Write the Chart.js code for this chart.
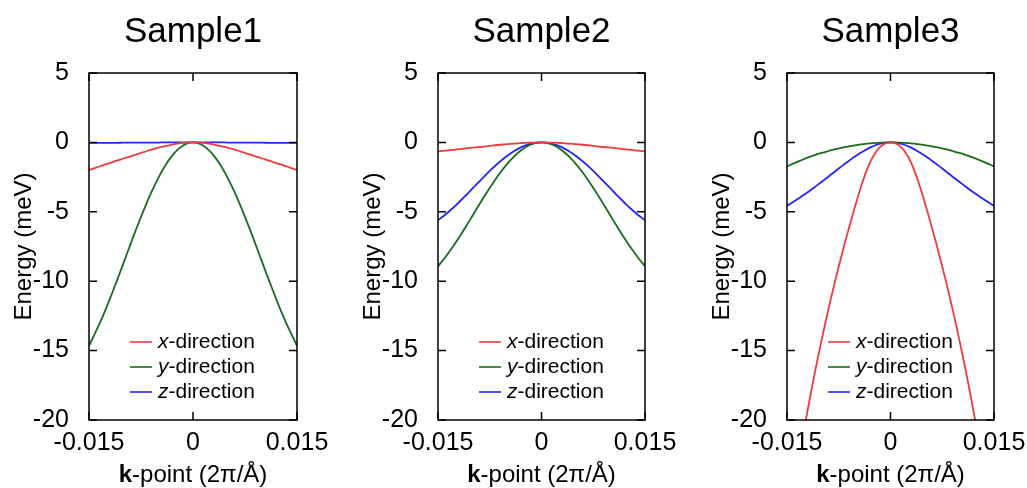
<!DOCTYPE html>
<html>
<head>
<meta charset="utf-8">
<script src="https://cdn.jsdelivr.net/npm/chart.js@4.4.1/dist/chart.umd.min.js"></script>
<style>
    body { margin: 0; background: #fff; width: 1027px; height: 488px; position: relative; overflow: hidden; }
    canvas { position: absolute; top: 0; }
</style>
</head>
<body>
<canvas id="chart1" width="329" height="488" style="left:0px"></canvas>
<canvas id="chart2" width="329" height="488" style="left:349px"></canvas>
<canvas id="chart3" width="329" height="488" style="left:698px"></canvas>
<script>
// k-points along the path (2π/Å)
const kPoints = [-0.015, -0.014, -0.013, -0.012, -0.011, -0.010, -0.009, -0.008, -0.007, -0.006, -0.005, -0.004, -0.003, -0.002, -0.001,
    0, 0.001, 0.002, 0.003, 0.004, 0.005, 0.006, 0.007, 0.008, 0.009, 0.010, 0.011, 0.012, 0.013, 0.014, 0.015];

const xTicks = [-0.015, 0, 0.015];
const yTicks = [5, 0, -5, -10, -15, -20];

const titles = ['Sample1', 'Sample2', 'Sample3'];
const seriesLabels = ['x-direction', 'y-direction', 'z-direction'];

// Energies (meV)
const sample1X = [-1.98, -1.82, -1.65, -1.49, -1.32, -1.16, -1.0, -0.84, -0.68, -0.52, -0.38, -0.26, -0.16, -0.07, -0.02,
    0, -0.02, -0.07, -0.16, -0.26, -0.38, -0.52, -0.68, -0.84, -1.0, -1.16, -1.32, -1.49, -1.65, -1.82, -1.98];
const sample1Y = [-14.65, -13.62, -12.51, -11.29, -9.99, -8.66, -7.31, -6.0, -4.75, -3.59, -2.55, -1.66, -0.95, -0.43, -0.11,
    0, -0.11, -0.43, -0.95, -1.66, -2.55, -3.59, -4.75, -6.0, -7.31, -8.66, -9.99, -11.29, -12.51, -13.62, -14.65];
const sample1Z = [-0.04, -0.04, -0.03, -0.03, -0.03, -0.02, -0.02, -0.02, -0.01, -0.01, -0.01, 0, 0, 0, 0,
    0, 0, 0, 0, 0, -0.01, -0.01, -0.01, -0.02, -0.02, -0.02, -0.03, -0.03, -0.03, -0.04, -0.04];

const sample2X = [-0.65, -0.6, -0.54, -0.49, -0.43, -0.38, -0.33, -0.28, -0.22, -0.17, -0.12, -0.09, -0.05, -0.02, -0.01,
    0, -0.01, -0.02, -0.05, -0.09, -0.12, -0.17, -0.22, -0.28, -0.33, -0.38, -0.43, -0.49, -0.54, -0.6, -0.65];
const sample2Y = [-8.92, -8.31, -7.63, -6.89, -6.1, -5.28, -4.46, -3.66, -2.9, -2.19, -1.56, -1.02, -0.58, -0.26, -0.07,
    0, -0.07, -0.26, -0.58, -1.02, -1.56, -2.19, -2.9, -3.66, -4.46, -5.28, -6.1, -6.89, -7.63, -8.31, -8.92];
const sample2Z = [-5.61, -5.23, -4.8, -4.33, -3.84, -3.32, -2.81, -2.3, -1.82, -1.38, -0.98, -0.64, -0.36, -0.16, -0.04,
    0, -0.04, -0.16, -0.36, -0.64, -0.98, -1.38, -1.82, -2.3, -2.81, -3.32, -3.84, -4.33, -4.8, -5.23, -5.61];

const sample3X = [null, null, -22.03, -19.28, -16.68, -14.28, -12.03, -9.93, -7.98, -6.13, -4.38, -2.78, -1.48, -0.6, -0.14,
    0, -0.14, -0.6, -1.48, -2.78, -4.38, -6.13, -7.98, -9.93, -12.03, -14.28, -16.68, -19.28, -22.03, null, null];
const sample3Y = [-1.73, -1.51, -1.3, -1.1, -0.92, -0.76, -0.62, -0.49, -0.38, -0.28, -0.2, -0.13, -0.07, -0.03, -0.01,
    0, -0.01, -0.03, -0.07, -0.13, -0.2, -0.28, -0.38, -0.49, -0.62, -0.76, -0.92, -1.1, -1.3, -1.51, -1.73];
const sample3Z = [-4.58, -4.26, -3.93, -3.59, -3.23, -2.85, -2.47, -2.08, -1.69, -1.32, -0.97, -0.65, -0.38, -0.17, -0.04,
    0, -0.04, -0.17, -0.38, -0.65, -0.97, -1.32, -1.69, -2.08, -2.47, -2.85, -3.23, -3.59, -3.93, -4.26, -4.58];

const colors = ['#ee3b3b', '#1d6b1d', '#2424f5'];
const FONT = "'Liberation Sans', Arial, sans-serif";

// Frame with inward ticks, panel title, x-axis title and inset legend
const panelDecor = {
    id: 'panelDecor',
    afterDatasetsDraw(chart, args, opts) {
        const { ctx, chartArea: a, scales } = chart;
        const cx = (a.left + a.right) / 2;
        ctx.save();
        ctx.strokeStyle = '#000';
        ctx.lineWidth = 1.5;
        ctx.strokeRect(a.left, a.top, a.right - a.left, a.bottom - a.top);
        ctx.beginPath();
        scales.y.ticks.forEach(t => {
            const y = scales.y.getPixelForValue(t.value);
            ctx.moveTo(a.left, y); ctx.lineTo(a.left + 8, y);
            ctx.moveTo(a.right, y); ctx.lineTo(a.right - 8, y);
        });
        scales.x.ticks.forEach(t => {
            const x = scales.x.getPixelForValue(t.value);
            ctx.moveTo(x, a.bottom); ctx.lineTo(x, a.bottom - 8);
            ctx.moveTo(x, a.top); ctx.lineTo(x, a.top + 8);
        });
        ctx.stroke();

        ctx.fillStyle = '#000';

        // title
        ctx.font = `35px ${FONT}`;
        ctx.textAlign = 'center';
        ctx.textBaseline = 'alphabetic';
        ctx.fillText(opts.title, cx, 42);

        // x-axis title with bold k
        ctx.textBaseline = 'middle';
        ctx.textAlign = 'left';
        ctx.font = `bold 24px ${FONT}`;
        const bold = 'k';
        const bw = ctx.measureText(bold).width;
        ctx.font = `24px ${FONT}`;
        const rest = '-point (2π/Å)';
        const rw = ctx.measureText(rest).width;
        const x0 = cx - (bw + rw) / 2;
        ctx.font = `bold 24px ${FONT}`;
        ctx.fillText(bold, x0, 475);
        ctx.font = `24px ${FONT}`;
        ctx.fillText(rest, x0 + bw, 475);

        // legend
        chart.data.datasets.forEach((ds, i) => {
            const y = a.bottom - 78 + i * 25;
            ctx.strokeStyle = ds.borderColor;
            ctx.lineWidth = 1.6;
            ctx.beginPath();
            ctx.moveTo(a.left + 41, y);
            ctx.lineTo(a.left + 63, y);
            ctx.stroke();
            ctx.fillStyle = '#000';
            ctx.font = `italic 21px ${FONT}`;
            const first = ds.label.charAt(0);
            ctx.fillText(first, a.left + 69, y);
            const w = ctx.measureText(first).width;
            ctx.font = `21px ${FONT}`;
            ctx.fillText(ds.label.slice(1), a.left + 69 + w, y);
        });
        ctx.restore();
    }
};

function makePanel(canvasId, title, series, plotWidth) {
    const ctx = document.getElementById(canvasId).getContext('2d');
    new Chart(ctx, {
        type: 'line',
        data: {
            datasets: series.map((vals, i) => ({
                label: seriesLabels[i],
                data: kPoints.map((k, j) => ({ x: k, y: vals[j] })),
                borderColor: colors[i],
                borderWidth: 1.8,
                pointRadius: 0,
                tension: 0.4,
                spanGaps: false
            }))
        },
        options: {
            responsive: false,
            animation: false,
            layout: { padding: { top: 73, left: 0, right: 329 - 89 - plotWidth, bottom: 0 } },
            plugins: {
                legend: { display: false },
                tooltip: { enabled: false },
                panelDecor: { title: title }
            },
            scales: {
                x: {
                    type: 'linear',
                    min: -0.015,
                    max: 0.015,
                    afterBuildTicks: scale => { scale.ticks = xTicks.map(v => ({ value: v })); },
                    afterFit: scale => {
                        scale.height = 68;
                        scale.paddingLeft = 0;
                        scale.paddingRight = 0;
                    },
                    grid: { display: false, drawTicks: false },
                    border: { display: false },
                    ticks: {
                        color: '#000',
                        padding: 8,
                        maxRotation: 0,
                        font: { family: FONT, size: 25 },
                        callback: v => String(v)
                    }
                },
                y: {
                    min: -20,
                    max: 5,
                    afterBuildTicks: scale => { scale.ticks = yTicks.map(v => ({ value: v })); },
                    afterFit: scale => { scale.width = 89; },
                    grid: { display: false, drawTicks: false },
                    border: { display: false },
                    ticks: {
                        color: '#000',
                        padding: 20,
                        font: { family: FONT, size: 25 },
                        callback: v => String(v)
                    },
                    title: {
                        display: true,
                        text: 'Energy (meV)',
                        color: '#000',
                        padding: { top: 10, bottom: 0 },
                        font: { family: FONT, size: 24 }
                    }
                }
            }
        },
        plugins: [panelDecor]
    });
}

makePanel('chart1', titles[0], [sample1X, sample1Y, sample1Z], 208);
makePanel('chart2', titles[1], [sample2X, sample2Y, sample2Z], 207);
makePanel('chart3', titles[2], [sample3X, sample3Y, sample3Z], 207);
</script>
</body>
</html>
